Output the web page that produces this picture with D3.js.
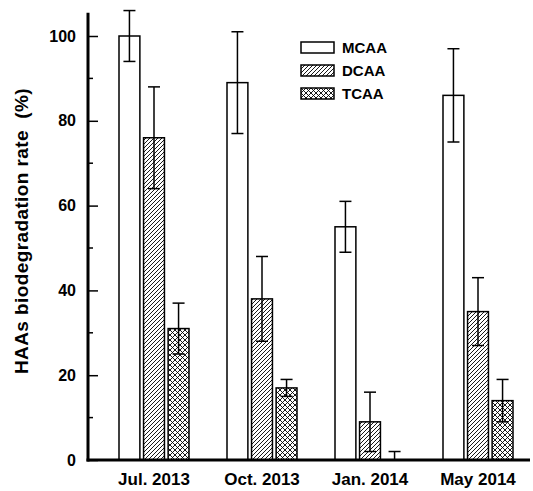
<!DOCTYPE html>
<html>
<head>
<meta charset="utf-8">
<script src="https://cdn.jsdelivr.net/npm/d3@7"></script>
<style>
  body { margin: 0; background: #fff; }
  svg text { font-family: 'Liberation Sans', Arial, sans-serif; font-weight: bold; fill: #000; }
</style>
</head>
<body>
<div id="chart"></div>
<script>
// HAAs biodegradation rate by sampling campaign, mean with error bars
const campaigns = ['Jul. 2013', 'Oct. 2013', 'Jan. 2014', 'May 2014'];
const species = ['MCAA', 'DCAA', 'TCAA'];
const mcaa = [100, 89, 55, 86];
const dcaa = [76, 38, 9, 35];
const tcaa = [31, 17, 0, 14];
const mcaaErr = [6, 12, 6, 11];
const dcaaErr = [12, 10, 7, 8];
const tcaaErr = [6, 2, 2, 5];
const yTicks = [0, 20, 40, 60, 80, 100];
const yMinorTicks = [10, 30, 50, 70, 90];

const seriesValues = [mcaa, dcaa, tcaa];
const seriesErrors = [mcaaErr, dcaaErr, tcaaErr];

const width = 533;
const height = 491;

const svg = d3.select('#chart').append('svg').attr('width', width).attr('height', height);

// fills: plain, diagonal hatch, crosshatch
const defs = svg.append('defs');
const hatch = defs.append('pattern')
  .attr('id', 'hatch-dcaa')
  .attr('patternUnits', 'userSpaceOnUse')
  .attr('width', 4).attr('height', 4);
hatch.append('rect').attr('width', 4).attr('height', 4).attr('fill', '#fff');
hatch.append('path').attr('d', 'M-1,1 l2,-2 M0,4 l4,-4 M3,5 l2,-2')
  .attr('stroke', '#000').attr('stroke-width', 0.9);

const cross = defs.append('pattern')
  .attr('id', 'cross-tcaa')
  .attr('patternUnits', 'userSpaceOnUse')
  .attr('width', 5).attr('height', 5);
cross.append('rect').attr('width', 5).attr('height', 5).attr('fill', '#fff');
cross.append('path').attr('d', 'M-1,1 l2,-2 M0,5 l5,-5 M4,6 l2,-2 M-1,4 l2,2 M0,0 l5,5 M4,-1 l2,2')
  .attr('stroke', '#000').attr('stroke-width', 0.9);

const fills = ['#fff', 'url(#hatch-dcaa)', 'url(#cross-tcaa)'];

const x = d3.scaleBand().domain(campaigns).range([100, 532]).paddingInner(0).paddingOuter(0);
const xs = d3.scaleBand().domain(species).range([-35, 35]).paddingInner(0.15);
const y = d3.scaleLinear().domain([0, 100]).range([460, 36]);

const axisLeft = 88;
const axisRight = 530;

// bars
const bars = [];
campaigns.forEach((c, i) => {
  species.forEach((s, j) => {
    bars.push({ campaign: c, series: s, index: j, value: seriesValues[j][i], err: seriesErrors[j][i] });
  });
});

const group = svg.append('g');

group.selectAll('rect.bar')
  .data(bars.filter((d) => d.value > 0))
  .join('rect')
  .attr('class', 'bar')
  .attr('x', (d) => x(d.campaign) + x.bandwidth() / 2 + xs(d.series))
  .attr('y', (d) => y(d.value))
  .attr('width', xs.bandwidth())
  .attr('height', (d) => y(0) - y(d.value))
  .attr('fill', (d) => fills[d.index])
  .attr('stroke', '#000')
  .attr('stroke-width', 1.5);

// error bars
const capHalf = 6;
const errs = group.selectAll('g.err').data(bars).join('g').attr('class', 'err')
  .attr('transform', (d) => `translate(${x(d.campaign) + x.bandwidth() / 2 + xs(d.series) + xs.bandwidth() / 2},0)`);
errs.append('line')
  .attr('y1', (d) => y(Math.max(0, d.value - d.err)))
  .attr('y2', (d) => y(d.value + d.err))
  .attr('stroke', '#000').attr('stroke-width', 1.5);
errs.append('line')
  .attr('x1', -capHalf).attr('x2', capHalf)
  .attr('y1', (d) => y(d.value + d.err)).attr('y2', (d) => y(d.value + d.err))
  .attr('stroke', '#000').attr('stroke-width', 1.5);
errs.filter((d) => d.value - d.err > 0).append('line')
  .attr('x1', -capHalf).attr('x2', capHalf)
  .attr('y1', (d) => y(d.value - d.err)).attr('y2', (d) => y(d.value - d.err))
  .attr('stroke', '#000').attr('stroke-width', 1.5);

// y axis: ticks point inward
const yAxisG = svg.append('g').attr('transform', `translate(${axisLeft},0)`)
  .call(d3.axisLeft(y).tickValues(yTicks).tickSizeInner(-10).tickSizeOuter(0).tickPadding(12))
  .call((g) => g.select('.domain').remove());
yAxisG.selectAll('line').attr('stroke', '#000').attr('stroke-width', 1.5);
yAxisG.selectAll('text').attr('font-size', 16).attr('x', -12).attr('dx', 0).attr('text-anchor', 'end');

svg.append('g').attr('transform', `translate(${axisLeft},0)`)
  .selectAll('line').data(yMinorTicks).join('line')
  .attr('x1', 0).attr('x2', 5)
  .attr('y1', (d) => y(d)).attr('y2', (d) => y(d))
  .attr('stroke', '#000').attr('stroke-width', 1.5);

svg.append('line')
  .attr('x1', axisLeft).attr('x2', axisLeft)
  .attr('y1', y(0) + 1.5).attr('y2', y(105.5))
  .attr('stroke', '#000').attr('stroke-width', 3);

svg.append('line')
  .attr('x1', axisLeft - 1.5).attr('x2', axisRight)
  .attr('y1', y(0)).attr('y2', y(0))
  .attr('stroke', '#000').attr('stroke-width', 3);

// x axis labels
const xAxisG = svg.append('g').attr('transform', `translate(0,${y(0)})`)
  .call(d3.axisBottom(x).tickSize(0).tickPadding(13))
  .call((g) => g.select('.domain').remove());
xAxisG.selectAll('text').attr('font-size', 17);

// y title
svg.append('text')
  .attr('transform', `translate(28,${(y(0) + y(100)) / 2 - 17}) rotate(-90)`)
  .attr('text-anchor', 'middle')
  .attr('font-size', 19)
  .attr('letter-spacing', 0.4)
  .style('white-space', 'pre')
  .text('HAAs biodegradation rate  (%)');

// legend
const legend = svg.append('g').attr('transform', 'translate(301,42)');
species.forEach((s, j) => {
  const item = legend.append('g').attr('transform', `translate(0,${j * 23})`);
  item.append('rect').attr('width', 33).attr('height', 11)
    .attr('fill', fills[j]).attr('stroke', '#000').attr('stroke-width', 1.5);
  item.append('text').attr('x', 41).attr('y', 11).attr('font-size', 15).text(s);
});
</script>
</body>
</html>
